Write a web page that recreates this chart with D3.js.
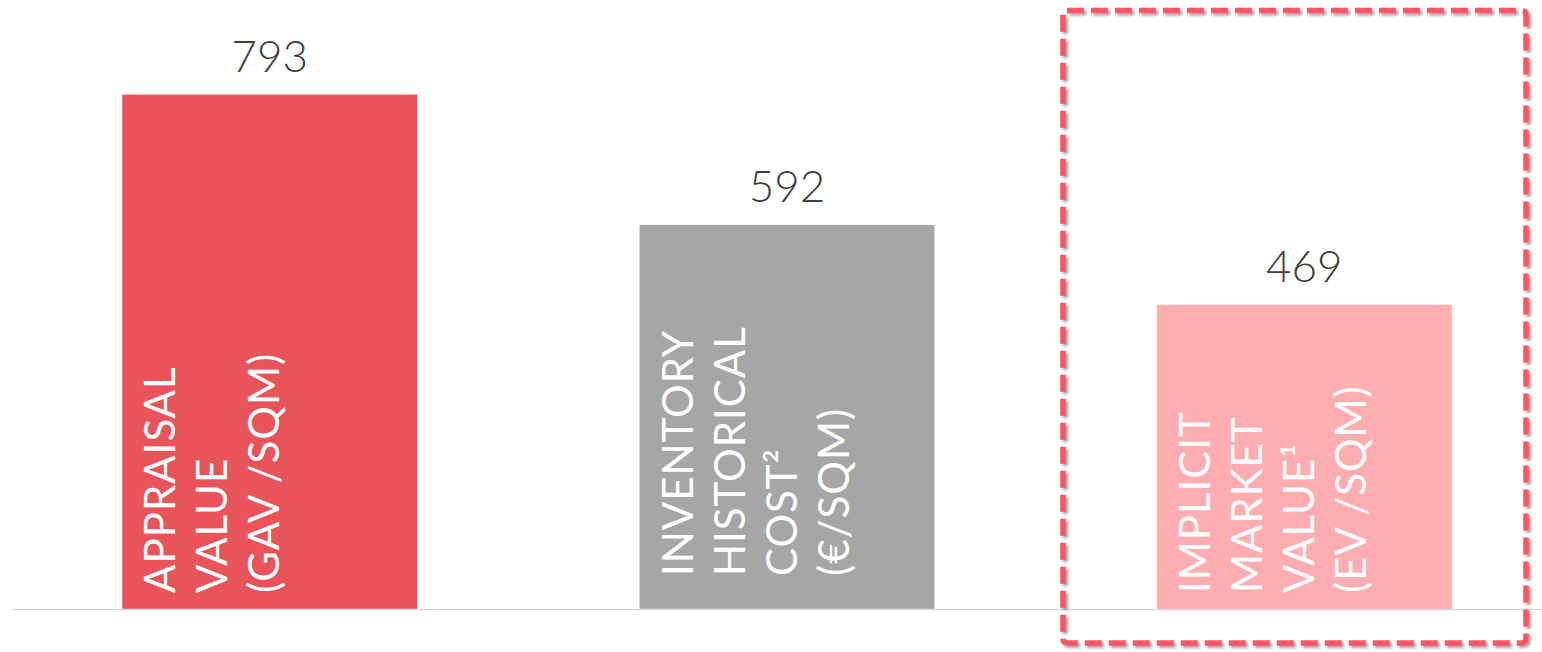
<!DOCTYPE html>
<html>
<head>
<meta charset="utf-8">
<script src="https://cdn.jsdelivr.net/npm/d3@7"></script>
<style>
  html, body { margin: 0; padding: 0; background: #ffffff; }
  svg { display: block; }
</style>
</head>
<body>
<svg id="chart" width="1542" height="652"></svg>
<script>
// ---- data ----
const categories = ["appraisal", "inventory", "implicit"];
const values = [793, 592, 469];
const labelLines = [
  ["APPRAISAL", "VALUE", "(GAV /SQM)"],
  ["INVENTORY", "HISTORICAL", "COST²", "(€/SQM)"],
  ["IMPLICIT", "MARKET", "VALUE¹", "(EV /SQM)"]
];
const barColors = ["#E9545A", "#A6A6A6", "#FFADB1"];
const highlighted = ["implicit"];

// ---- layout ----
const W = 1542, H = 652;
const baseY = 609;
const svg = d3.select("#chart");

const x = d3.scaleBand()
  .domain(categories)
  .range([11, 1563])
  .paddingInner(0.43)
  .paddingOuter(0.215);

const y = d3.scaleLinear()
  .domain([0, 800])
  .range([baseY, 90]);

const defs = svg.append("defs");
const f = defs.append("filter").attr("id", "shadow")
  .attr("x", "-5%").attr("y", "-5%").attr("width", "110%").attr("height", "110%");
f.append("feDropShadow")
  .attr("dx", 2).attr("dy", 2).attr("stdDeviation", 1.8)
  .attr("flood-color", "#000").attr("flood-opacity", 0.4);

// bars
svg.append("g").selectAll("rect")
  .data(categories)
  .join("rect")
  .attr("x", d => x(d))
  .attr("y", (d, i) => y(values[i]))
  .attr("width", x.bandwidth())
  .attr("height", (d, i) => y(0) - y(values[i]))
  .attr("fill", (d, i) => barColors[i]);

// baseline
svg.append("line")
  .attr("x1", 12).attr("x2", W)
  .attr("y1", baseY + 0.5).attr("y2", baseY + 0.5)
  .attr("stroke", "#d9d9d9").attr("stroke-width", 1.6);

// value labels
svg.append("g").selectAll("text")
  .data(categories)
  .join("text")
  .attr("x", d => x(d) + x.bandwidth() / 2)
  .attr("y", (d, i) => y(values[i]) - 23)
  .attr("text-anchor", "middle")
  .attr("font-family", "Lato, 'Open Sans', sans-serif")
  .attr("font-weight", 300)
  .attr("font-size", 44)
  .attr("fill", "#404040")
  .text((d, i) => values[i]);

// rotated category labels inside bars
const lineGap = 52;
categories.forEach((c, i) => {
  const inset = i === 1 ? 33 : 16;
  const bx = x(c) + 53;
  const t = svg.append("text")
    .attr("transform", `translate(${bx},${baseY - inset}) rotate(-90)`)
    .attr("font-family", "Lato, 'Open Sans', sans-serif")
    .attr("font-weight", 400)
    .attr("font-size", 42)
    .attr("letter-spacing", 1)
    .attr("fill", "#ffffff");
  labelLines[i].forEach((ln, j) => {
    t.append("tspan")
      .attr("x", 0)
      .attr("y", j * lineGap)
      .text(ln);
  });
});

// dashed highlight box around implicit bar
highlighted.forEach(c => {
  svg.append("rect")
    .attr("x", 1063)
    .attr("y", 10.5)
    .attr("width", 1526 - 1063)
    .attr("height", 643 - 10.5)
    .attr("rx", 4)
    .attr("fill", "none")
    .attr("stroke", "#FF5562")
    .attr("stroke-width", 5.5)
    .attr("stroke-dasharray", "17 7")
    .attr("filter", "url(#shadow)");
});
</script>
</body>
</html>
